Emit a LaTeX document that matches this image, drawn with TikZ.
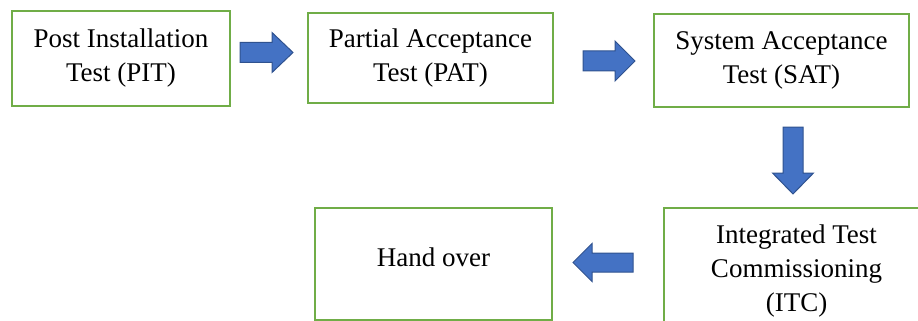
\documentclass[tikz,border=0pt]{standalone}
\usepackage{fontspec}
\setmainfont{Liberation Serif}
\definecolor{boxgreen}{HTML}{70AD47}
\definecolor{arrowfill}{HTML}{4472C4}
\definecolor{arrowline}{HTML}{2F528F}
\tikzset{
  stagebox/.style={draw=boxgreen, line width=2pt, fill=white, inner sep=0pt,
    align=center, font=\fontsize{27}{34}\selectfont},
  blockarrow/.style={fill=arrowfill, draw=arrowline, line width=1pt, line join=miter}
}
\begin{document}
\begin{tikzpicture}[x=1pt, y=-1pt]
  \useasboundingbox (0,0) rectangle (918,321);

  % test stages
  \node[stagebox, minimum width=218pt, minimum height=95pt] (pit) at (121,58.5)
    {Post Installation\\Test (PIT)};
  \node[stagebox, minimum width=245pt, minimum height=90pt] (pat) at (430.5,58)
    {Partial Acceptance\\Test (PAT)};
  \node[stagebox, minimum width=255pt, minimum height=93pt] (sat) at (781.5,60.5)
    {System Acceptance\\Test (SAT)};
  \node[stagebox, minimum width=265pt, minimum height=127pt] (itc) at (796.5,271.5)
    {Integrated Test\\Commissioning\\(ITC)};
  \node[stagebox, minimum width=237pt, minimum height=111.5pt, text depth=14pt]
    (hand) at (433.5,263.75) {Hand over};

  % block arrows between the stages
  \draw[blockarrow] (240,42.5) -- (272,42.5) -- (272,32.5) -- (293,52.5)
    -- (272,72.5) -- (272,62.5) -- (240,62.5) -- cycle;
  \draw[blockarrow] (583,51) -- (615,51) -- (615,41) -- (635,61)
    -- (615,81) -- (615,71) -- (583,71) -- cycle;
  \draw[blockarrow] (783,127) -- (803,127) -- (803,173) -- (813.5,173)
    -- (793,194) -- (772.5,173) -- (783,173) -- cycle;
  \draw[blockarrow] (633,253) -- (592,253) -- (592,243.5) -- (573,262.5)
    -- (592,281.5) -- (592,272) -- (633,272) -- cycle;
\end{tikzpicture}
\end{document}
